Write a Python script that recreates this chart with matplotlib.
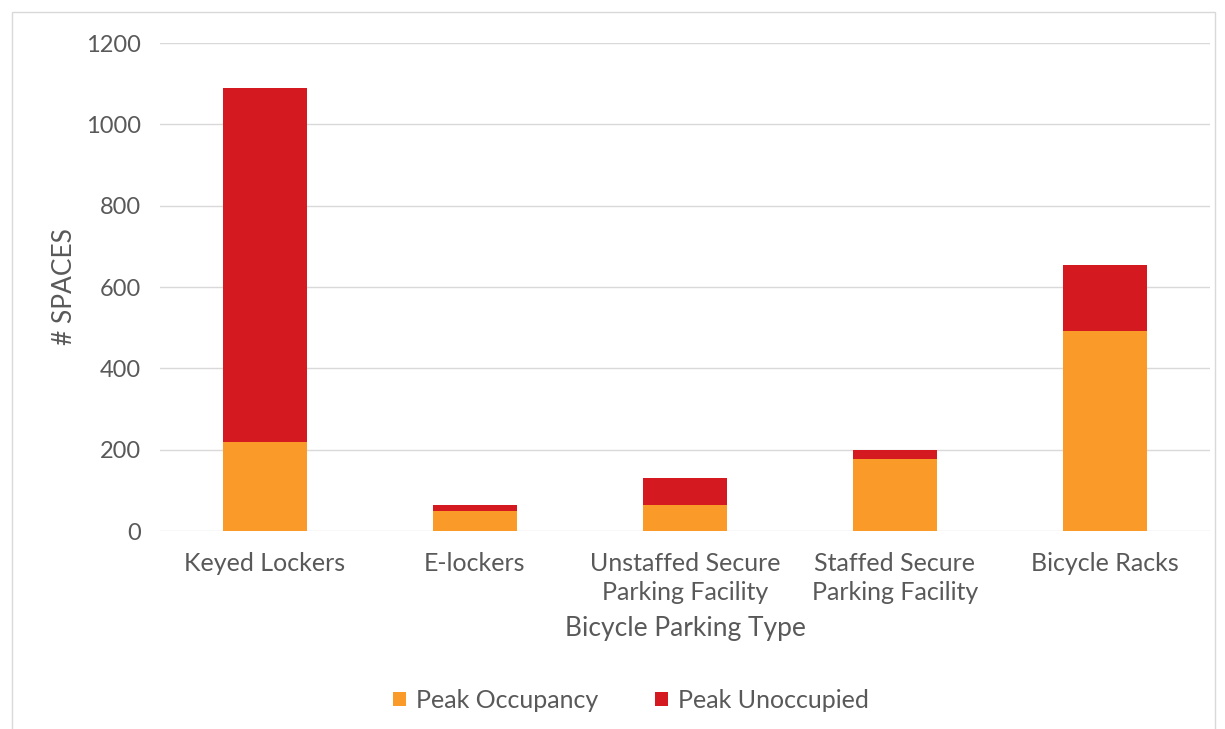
import matplotlib.pyplot as plt
from matplotlib.patches import Rectangle

# Bicycle parking spaces by type
types = ["Keyed Lockers", "E-lockers", "Unstaffed Secure\nParking Facility",
         "Staffed Secure\nParking Facility", "Bicycle Racks"]
occupied = [218, 48, 63, 178, 493]
unoccupied = [872, 15, 67, 20, 161]

orange = "#F99A29"
red = "#D51920"
grey_text = "#595959"

plt.rcParams["font.family"] = ["Lato", "DejaVu Sans"]

fig = plt.figure(figsize=(12.25, 7.29), dpi=100)
ax = fig.add_axes([160 / 1225, 1 - 531 / 729, 1050 / 1225, 488 / 729])

x = range(len(types))
ax.bar(x, occupied, width=0.4, color=orange, label="Peak Occupancy", zorder=3)
ax.bar(x, unoccupied, width=0.4, bottom=occupied, color=red,
       label="Peak Unoccupied", zorder=3)

ax.set_xlim(-0.5, 4.5)
ax.set_ylim(0, 1200)
ax.set_yticks(range(0, 1201, 200))
ax.set_xticks(list(x))
ax.set_xticklabels(types, fontsize=18, color=grey_text, linespacing=1.3)
ax.tick_params(axis="y", labelsize=17, labelcolor=grey_text, length=0, pad=14)
ax.tick_params(axis="x", length=0, pad=15)
ax.grid(axis="y", color="#D9D9D9", linewidth=1, zorder=0)
for s in ax.spines.values():
    s.set_visible(False)

ax.set_ylabel("# SPACES", fontsize=19, color=grey_text, labelpad=6)
ax.set_xlabel("Bicycle Parking Type", fontsize=19, color=grey_text, labelpad=9)

leg = fig.legend(loc="center", bbox_to_anchor=(631 / 1225, 1 - 700 / 729),
                 ncol=2, frameon=False, fontsize=18, handlelength=0.5,
                 handleheight=0.5, handletextpad=0.4, columnspacing=2.3)
for t in leg.get_texts():
    t.set_color(grey_text)

# light frame around the chart
fig.patches.append(Rectangle((12 / 1225, -0.05), 1203 / 1225, 1.05 - 12 / 729,
                             transform=fig.transFigure, fill=False,
                             edgecolor="#D9D9D9", linewidth=1))

fig.savefig("out.png", dpi=100)
